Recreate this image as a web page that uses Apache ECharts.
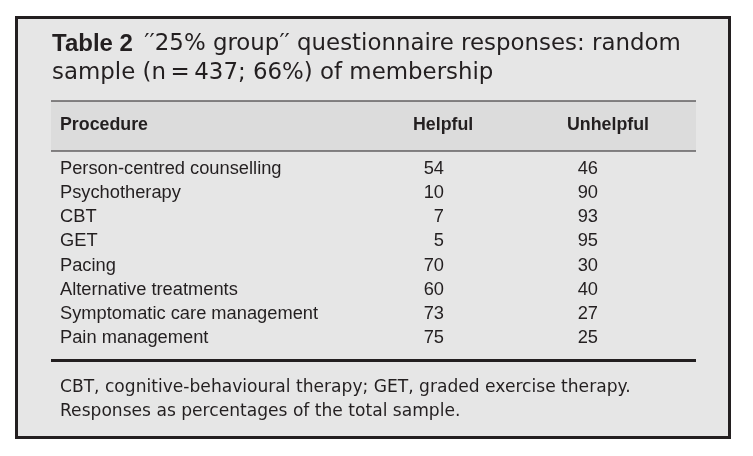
<!DOCTYPE html>
<html><head><meta charset="utf-8">
<script src="https://cdn.jsdelivr.net/npm/echarts@6/dist/echarts.min.js"></script>
<style>html,body{margin:0;padding:0;background:#fff}#c{width:753px;height:456px}</style>
</head><body><div id="c"></div>
<script>
// ---- data ----
const procedures = ['Person-centred counselling', 'Psychotherapy', 'CBT', 'GET', 'Pacing', 'Alternative treatments', 'Symptomatic care management', 'Pain management'];
const helpful = [54, 10, 7, 5, 70, 60, 73, 75];
const unhelpful = [46, 90, 93, 95, 30, 40, 27, 25];
const columns = ['Procedure', 'Helpful', 'Unhelpful'];
const titleBold = 'Table 2';
const titleLines = ['\u2032\u203225% group\u2032\u2032 questionnaire responses: random', 'sample (n\u2009=\u2009437; 66%) of membership'];
const footnotes = ['CBT, cognitive-behavioural therapy; GET, graded exercise therapy.', 'Responses as percentages of the total sample.'];

// ---- styles ----
const ink = '#231f20';
const bodyFont = { fontFamily: 'Liberation Sans', fontSize: 18.3, color: ink };
const headFont = { fontFamily: 'Liberation Sans', fontWeight: 'bold', fontSize: 17.8, color: ink };

const chart = echarts.init(document.getElementById('c'), null, { renderer: 'canvas' });

function column(name, vals) {
  return {
    type: 'scatter', name: name, xAxisIndex: 1, yAxisIndex: 1,
    symbolSize: 1, itemStyle: { color: 'rgba(0,0,0,0)', opacity: 1 }, silent: true,
    data: vals.map((v, i) => [name, procedures[i], v]),
    label: { show: true, position: 'inside', align: 'right', verticalAlign: 'middle', offset: [31, 0], opacity: 1,
      formatter: p => String(p.value[2]), ...bodyFont }
  };
}

const option = {
  animation: false,
  backgroundColor: '#ffffff',
  tooltip: { show: false },
  graphic: [
    { type: 'rect', z: -10, shape: { x: 16.5, y: 17.5, width: 713, height: 420 }, style: { fill: '#e6e6e6', stroke: ink, lineWidth: 3 } },
    { type: 'rect', z: -9, shape: { x: 51, y: 101, width: 645, height: 50 }, style: { fill: '#dcdcdc' } },
    { type: 'line', shape: { x1: 51, y1: 101, x2: 696, y2: 101 }, style: { stroke: ink, lineWidth: 1.2 } },
    { type: 'line', shape: { x1: 51, y1: 151, x2: 696, y2: 151 }, style: { stroke: ink, lineWidth: 1.2 } },
    { type: 'line', shape: { x1: 51, y1: 360.5, x2: 696, y2: 360.5 }, style: { stroke: ink, lineWidth: 2.8 } }
  ],
  title: [
    { left: 47, top: 24.5, text: '{b|' + titleBold + '}\u2002' + titleLines[0] + '\n' + titleLines[1],
      textStyle: { fontFamily: 'DejaVu Sans', fontSize: 22.9, fontWeight: 'normal', color: ink, lineHeight: 29,
        rich: { b: { fontFamily: 'Liberation Sans', fontWeight: 'bold', fontSize: 24, color: ink, lineHeight: 29 } } } },
    { left: 55, top: 371, text: footnotes.join('\n'),
      textStyle: { fontFamily: 'DejaVu Sans', fontSize: 17.1, fontWeight: 'normal', color: ink, lineHeight: 24 } }
  ],
  grid: [
    { left: 51, right: 57, top: 157, bottom: 106 },
    { left: 413, right: 186, top: 157, bottom: 106 }
  ],
  xAxis: [
    { gridIndex: 0, type: 'value', show: false, min: 0, max: 1 },
    { gridIndex: 1, type: 'category', data: columns.slice(1), boundaryGap: false, position: 'top',
      axisLine: { show: false }, axisTick: { show: false }, splitLine: { show: false },
      axisLabel: { interval: 0, align: 'left', verticalAlign: 'middle', margin: 32, ...headFont } }
  ],
  yAxis: [
    { gridIndex: 0, type: 'category', data: procedures, inverse: true,
      axisLine: { show: false }, axisTick: { show: false }, splitLine: { show: false },
      axisLabel: { inside: true, margin: 9, ...bodyFont },
      name: columns[0], nameLocation: 'start', nameGap: 32,
      nameTextStyle: { align: 'left', verticalAlign: 'middle', padding: [0, 0, 0, 9], ...headFont } },
    { gridIndex: 1, type: 'category', data: procedures, inverse: true, show: false }
  ],
  series: [column(columns[1], helpful), column(columns[2], unhelpful)]
};
chart.setOption(option);
</script>
</body></html>
